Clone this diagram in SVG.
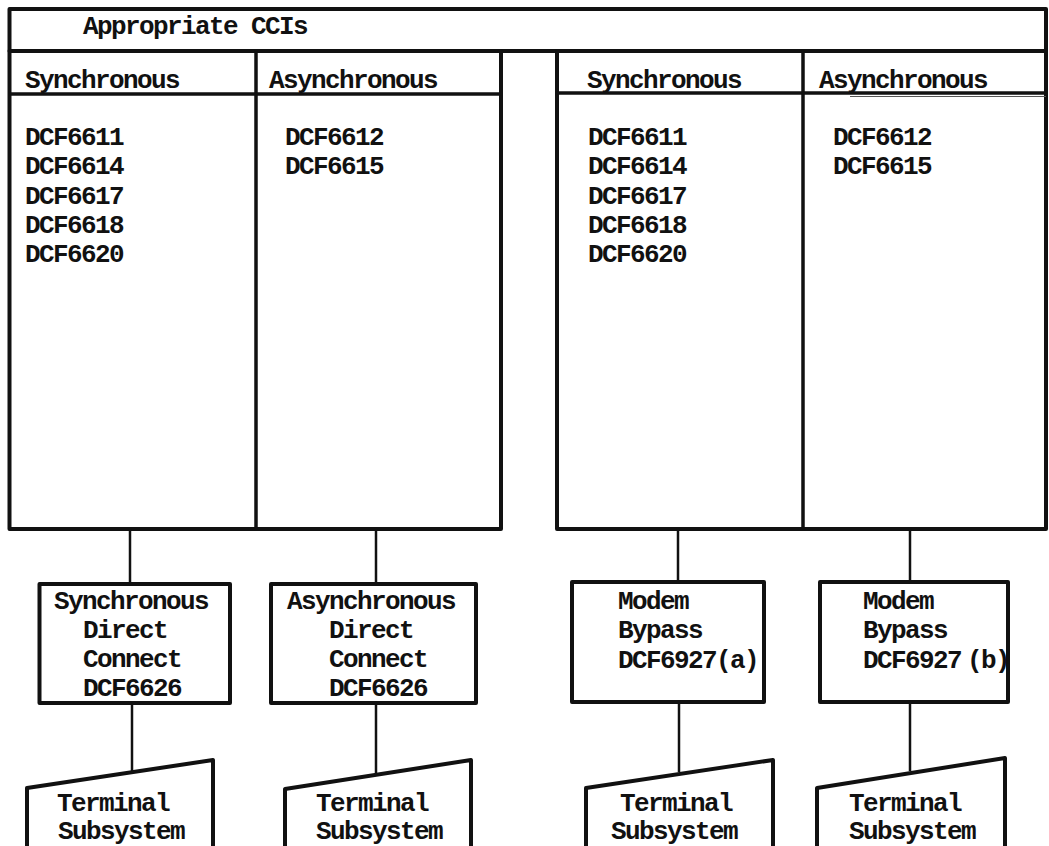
<svg xmlns="http://www.w3.org/2000/svg" width="1049" height="846" viewBox="0 0 1049 846">
<style>
.t{font-family:"Liberation Mono","Courier New",monospace;font-size:26px;letter-spacing:-1.6px;font-weight:bold;fill:#111}
.box{fill:#fff;stroke:#111;stroke-width:4;stroke-linejoin:round}
.div{stroke:#111;stroke-width:3.5;fill:none}
.ln{stroke:#111;stroke-width:2.5;fill:none}
</style>
<rect width="1049" height="846" fill="#fff"/>
<g id="header">
<rect class="box" x="9.5" y="9" width="1036.5" height="42"/>
<text class="t" x="83" y="34">Appropriate CCIs</text>
</g>
<g id="left-cci">
<rect class="box" x="9.5" y="51" width="491.5" height="478"/>
<line class="div" x1="256" y1="51" x2="256" y2="529"/>
<line class="div" x1="9.5" y1="94" x2="501" y2="94"/>
<text class="t" x="25" y="88">Synchronous</text>
<text class="t" x="269" y="88">Asynchronous</text>
<text class="t" x="25" y="145">DCF6611</text>
<text class="t" x="25" y="174">DCF6614</text>
<text class="t" x="25" y="203.5">DCF6617</text>
<text class="t" x="25" y="233">DCF6618</text>
<text class="t" x="25" y="262">DCF6620</text>
<text class="t" x="285" y="145">DCF6612</text>
<text class="t" x="285" y="174">DCF6615</text>
</g>
<g id="right-cci">
<rect class="box" x="557" y="51" width="489" height="478"/>
<line class="div" x1="803" y1="51" x2="803" y2="529"/>
<line class="div" x1="557" y1="93" x2="1046" y2="93"/>
<line x1="850" y1="96.5" x2="1046" y2="96.5" stroke="#555" stroke-width="1"/>
<text class="t" x="587" y="88">Synchronous</text>
<text class="t" x="819" y="88">Asynchronous</text>
<text class="t" x="588" y="145">DCF6611</text>
<text class="t" x="588" y="174">DCF6614</text>
<text class="t" x="588" y="203.5">DCF6617</text>
<text class="t" x="588" y="233">DCF6618</text>
<text class="t" x="588" y="262">DCF6620</text>
<text class="t" x="833" y="145">DCF6612</text>
<text class="t" x="833" y="174">DCF6615</text>
</g>
<g id="connectors">
<line class="ln" x1="130" y1="529" x2="130" y2="583"/>
<line class="ln" x1="132" y1="703" x2="132" y2="772"/>
<line class="ln" x1="376" y1="529" x2="376" y2="583"/>
<line class="ln" x1="376" y1="703" x2="376" y2="773"/>
<line class="ln" x1="678" y1="529" x2="678" y2="582"/>
<line class="ln" x1="679" y1="702" x2="679" y2="772"/>
<line class="ln" x1="910" y1="529" x2="910" y2="582"/>
<line class="ln" x1="910" y1="702" x2="910" y2="771"/>
</g>
<g id="sync-direct">
<rect class="box" x="39.5" y="584" width="190.5" height="119"/>
<text class="t" x="54" y="609">Synchronous</text>
<text class="t" x="83" y="638">Direct</text>
<text class="t" x="83" y="667">Connect</text>
<text class="t" x="83" y="696">DCF6626</text>
</g>
<g id="async-direct">
<rect class="box" x="271" y="584" width="205" height="119"/>
<text class="t" x="287" y="609">Asynchronous</text>
<text class="t" x="329" y="638">Direct</text>
<text class="t" x="329" y="667">Connect</text>
<text class="t" x="329" y="696">DCF6626</text>
</g>
<g id="modem-a">
<rect class="box" x="572" y="582" width="192" height="120"/>
<text class="t" x="618" y="609">Modem</text>
<text class="t" x="618" y="638">Bypass</text>
<text class="t" x="618" y="668">DCF6927(a)</text>
</g>
<g id="modem-b">
<rect class="box" x="820" y="582" width="188" height="120"/>
<text class="t" x="863" y="609">Modem</text>
<text class="t" x="863" y="638">Bypass</text>
<text class="t" x="863" y="668">DCF6927</text>
<text class="t" x="967" y="668">(b)</text>
</g>
<g id="terminal-1">
<path class="box" d="M27,850 L27,788 L213,760 L213,850"/>
<text class="t" x="57" y="811">Terminal</text>
<text class="t" x="58" y="839">Subsystem</text>
</g>
<g id="terminal-2">
<path class="box" d="M285,850 L285,789 L471,760 L471,850"/>
<text class="t" x="316" y="811">Terminal</text>
<text class="t" x="316" y="839">Subsystem</text>
</g>
<g id="terminal-3">
<path class="box" d="M586,850 L586,788 L773,760 L773,850"/>
<text class="t" x="620" y="811">Terminal</text>
<text class="t" x="611" y="839">Subsystem</text>
</g>
<g id="terminal-4">
<path class="box" d="M817,850 L817,788 L1005,758 L1005,850"/>
<text class="t" x="849" y="811">Terminal</text>
<text class="t" x="849" y="839">Subsystem</text>
</g>
</svg>
